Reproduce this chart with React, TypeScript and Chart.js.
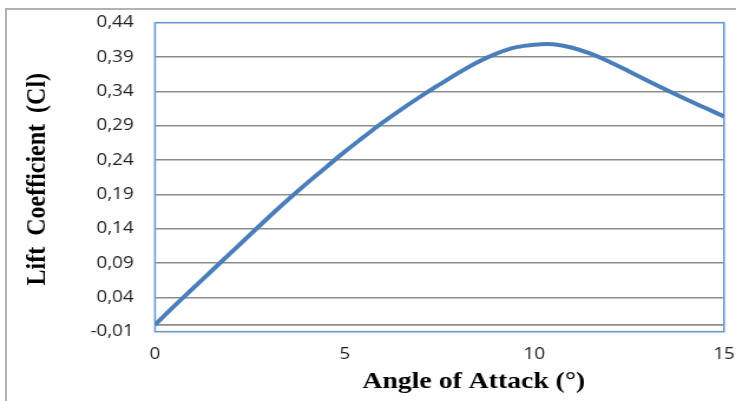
import React, { useEffect, useRef } from 'react';
import { Chart, registerables } from 'chart.js';

Chart.register(...registerables);

// ---- data ----
const angles = [0, 0.5, 1, 1.5, 2, 2.5, 3, 3.5, 4, 4.5, 5, 5.5, 6, 6.5, 7, 7.5, 8, 8.5, 9, 9.5, 10, 10.5, 11, 11.5, 12, 12.5, 13, 13.5, 14, 14.5, 15];
const liftCoefficient = [
  0.0, 0.027, 0.053, 0.079, 0.105, 0.131, 0.157, 0.182, 0.206, 0.229, 0.252,
  0.2735, 0.2945, 0.314, 0.3325, 0.35, 0.367, 0.3825, 0.395, 0.404, 0.408,
  0.4085, 0.4035, 0.3945, 0.3825, 0.369, 0.355, 0.3415, 0.3285, 0.316, 0.3035,
];
const yTickValues = [-0.01, 0.04, 0.09, 0.14, 0.19, 0.24, 0.29, 0.34, 0.39, 0.44];
const xTickValues = [0, 5, 10, 15];
const xTitle = 'Angle of Attack (°)';
const yTitle = 'Lift Coefficient (Cl)';

// canvas drawn narrower, then shown stretched like the reference picture
const BUF_W = 624;
const BUF_H = 401;
const SHOW_W = 736;
const S = SHOW_W / BUF_W;

const frameBlue = '#6b98cf';
const gridGray = '#8c8c8c';
const lineBlue = '#4a7ebb';

const decorPlugin = {
  id: 'decor',
  beforeDatasetsDraw(chart: any) {
    const { ctx, chartArea, scales } = chart;
    const y0 = scales.y.getPixelForValue(0);
    ctx.save();
    ctx.strokeStyle = gridGray;
    ctx.lineWidth = 1.6;
    ctx.beginPath();
    ctx.moveTo(chartArea.left, y0);
    ctx.lineTo(chartArea.right, y0);
    ctx.stroke();
    ctx.strokeStyle = frameBlue;
    ctx.lineWidth = 1.6;
    ctx.strokeRect(chartArea.left, chartArea.top, chartArea.right - chartArea.left, chartArea.bottom - chartArea.top);
    ctx.restore();
  },
  afterDraw(chart: any) {
    const { ctx, chartArea } = chart;
    ctx.save();
    ctx.fillStyle = '#000';
    ctx.font = 'bold 23.5px "Liberation Serif", "Times New Roman", serif';
    ctx.textAlign = 'center';
    ctx.textBaseline = 'alphabetic';
    ctx.fillText(xTitle, 401.7, 388);
    ctx.translate(38.2, (chartArea.top + chartArea.bottom) / 2 + 2);
    ctx.rotate(-Math.PI / 2);
    ctx.font = 'bold 24px "Liberation Serif", "Times New Roman", serif';
    try {
      (ctx as any).wordSpacing = '5px';
    } catch (e) {
      /* ignore */
    }
    ctx.fillText(yTitle, 0, 0);
    ctx.restore();
  },
};

function LiftChart() {
  const ref = useRef<HTMLCanvasElement | null>(null);
  useEffect(() => {
    if (!ref.current) return;
    const chart = new Chart(ref.current, {
      type: 'line',
      data: {
        datasets: [
          {
            data: angles.map((a, i) => ({ x: a, y: liftCoefficient[i] })),
            borderColor: lineBlue,
            borderWidth: 4,
            pointRadius: 0,
            tension: 0.4,
            fill: false,
          },
        ],
      },
      options: {
        animation: false,
        responsive: false,
        layout: { padding: { top: 22.7, right: 10.2, left: 0, bottom: 0 } },
        plugins: { legend: { display: false }, tooltip: { enabled: false }, title: { display: false } },
        scales: {
          x: {
            type: 'linear',
            min: 0,
            max: 15,
            grid: { display: false, drawTicks: false },
            border: { display: false },
            afterBuildTicks: (scale: any) => {
              scale.ticks = xTickValues.map((v) => ({ value: v }));
            },
            afterFit: (scale: any) => {
              scale.height = BUF_H - 331.7;
              scale.paddingLeft = 0;
              scale.paddingRight = 0;
            },
            ticks: {
              padding: 13.5,
              color: '#222',
              font: { family: '"Open Sans", "Noto Sans", sans-serif', size: 16 },
              maxRotation: 0,
              autoSkip: false,
              callback: (v: any) => String(v),
            },
          },
          y: {
            type: 'linear',
            min: -0.01,
            max: 0.44,
            grid: {
              drawTicks: false,
              lineWidth: 1.6,
              color: (c: any) =>
                c.index === 0 || c.index === yTickValues.length - 1 ? 'rgba(0,0,0,0)' : gridGray,
            },
            border: { display: false },
            afterBuildTicks: (scale: any) => {
              scale.ticks = yTickValues.map((v) => ({ value: v }));
            },
            afterFit: (scale: any) => {
              scale.width = 155 / S;
              scale.paddingTop = 0;
              scale.paddingBottom = 0;
            },
            ticks: {
              padding: 18,
              color: '#222',
              font: { family: '"Open Sans", "Noto Sans", sans-serif', size: 16 },
              autoSkip: false,
              callback: (v: any) => Number(v).toFixed(2).replace('.', ','),
            },
          },
        },
      },
      plugins: [decorPlugin],
    });
    return () => chart.destroy();
  }, []);

  return (
    <canvas
      ref={ref}
      width={BUF_W}
      height={BUF_H}
      style={{ display: 'block', width: SHOW_W + 'px', height: BUF_H + 'px' }}
    />
  );
}

export default function App() {
  return (
    <div
      style={{
        position: 'fixed',
        left: 0,
        top: 0,
        width: SHOW_W,
        height: BUF_H,
        overflow: 'hidden',
        background: '#fff',
      }}
    >
      <LiftChart />
      <div
        style={{
          position: 'absolute',
          left: 5,
          top: 8,
          width: 2000,
          height: 2000,
          borderLeft: '2px solid #b2b2b2',
          borderTop: '2px solid #b2b2b2',
          pointerEvents: 'none',
        }}
      />
    </div>
  );
}
